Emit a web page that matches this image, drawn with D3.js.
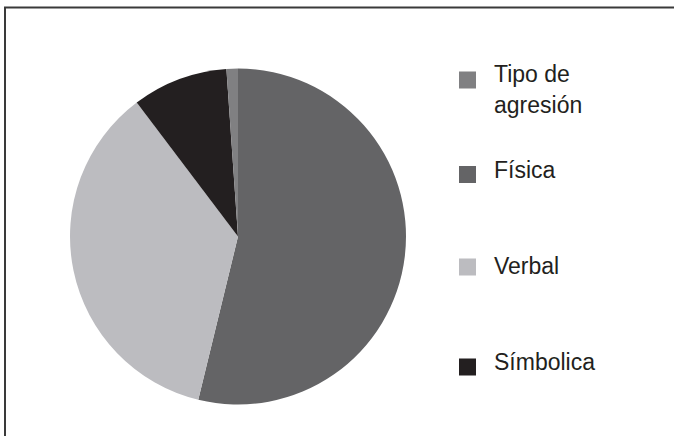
<!DOCTYPE html>
<html><head><meta charset="utf-8">
<script src="https://cdn.jsdelivr.net/npm/d3@7"></script>
<style>html,body{margin:0;padding:0;background:#fff;overflow:hidden}</style>
</head><body>
<svg id="chart" width="674" height="436"></svg>
<script>
const categories = ["Tipo de agresión", "Física", "Verbal", "Símbolica"];
const values = [1.1, 53.8, 35.9, 9.2];
const colors = ["#808082", "#646466", "#bcbcc0", "#231f20"];
const legendLines = [["Tipo de", "agresión"], ["Física"], ["Verbal"], ["Símbolica"]];

const svg = d3.select("#chart");
svg.append("rect").attr("x", 5).attr("y", 7.5).attr("width", 800).attr("height", 600)
  .attr("fill", "none").attr("stroke", "#3a3a3a").attr("stroke-width", 2);

const cx = 238, cy = 236.5, r = 168;
// order slices so Física starts at 12 o'clock, Tipo is last
const order = [1, 2, 3, 0];
const pieData = d3.pie().sort(null).value(i => values[i])(order);
const arc = d3.arc().innerRadius(0).outerRadius(r);
svg.append("g").attr("transform", `translate(${cx},${cy})`)
  .selectAll("path").data(pieData).join("path")
  .attr("d", arc).attr("fill", d => colors[d.data]);

// legend
const markerY = [80, 174.5, 267, 367];
const baseY = [82, 178, 274, 369.5];
const lg = svg.append("g");
categories.forEach((c, i) => {
  lg.append("rect").attr("x", 459).attr("y", markerY[i] - 8.5)
    .attr("width", 17).attr("height", 17).attr("fill", colors[i]);
  const t = lg.append("text").attr("x", 494).attr("y", baseY[i])
    .attr("font-family", "'Liberation Sans', Arial, sans-serif")
    .attr("font-size", 23).attr("fill", "#231f20");
  legendLines[i].forEach((ln, j) => {
    t.append("tspan").attr("x", 494).attr("dy", j === 0 ? 0 : 31).text(ln);
  });
});
</script>
</body></html>
